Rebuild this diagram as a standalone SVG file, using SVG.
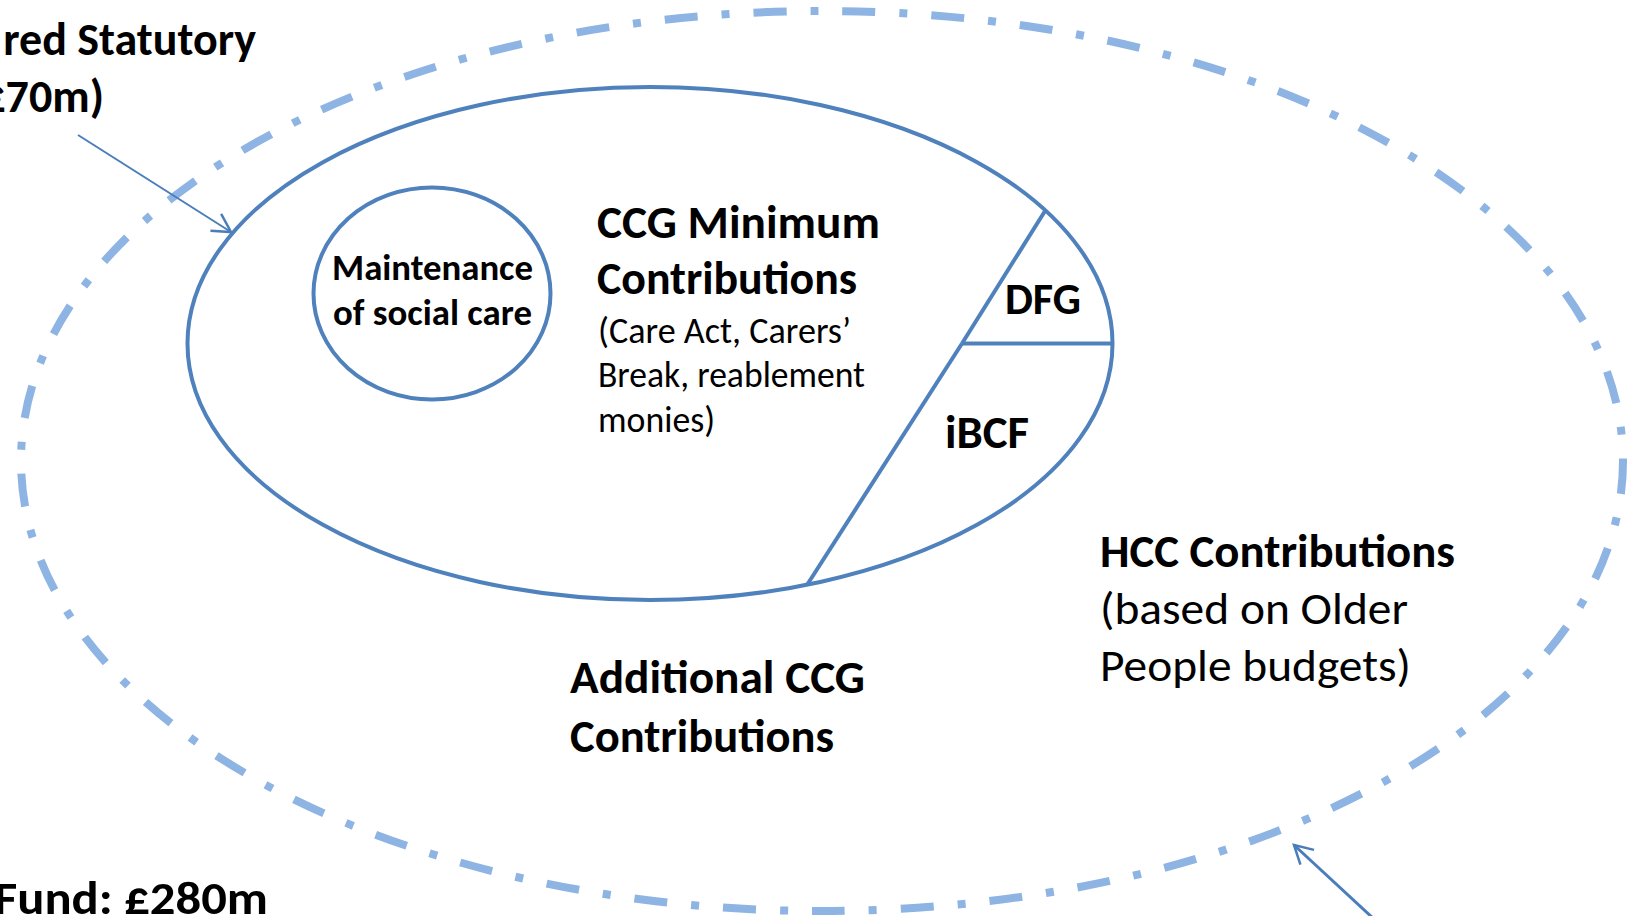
<svg xmlns="http://www.w3.org/2000/svg" width="1633" height="916" viewBox="0 0 1633 916">
  <style>
    .lbl { font-family: Carlito, Calibri, Lato, "Open Sans", sans-serif; fill: #000; }
    .b { font-weight: 700; }
    .r { font-weight: 400; }
    .solid { fill: none; stroke: #4F81BD; stroke-width: 4; }
    .dashed { fill: none; stroke: #8EB4E3; stroke-width: 8; stroke-dasharray: 33 24 8 24; }
    .conn { fill: none; stroke: #4A7EBB; }
  </style>
  <defs>
    <marker id="openArrow" markerUnits="userSpaceOnUse" viewBox="-22 -13 26 26" refX="0" refY="0" markerWidth="26" markerHeight="26" orient="auto">
      <path d="M -18 -10 L 0 0 L -18 10" fill="none" stroke="#4A7EBB" stroke-width="2.5"/>
    </marker>
  </defs>

  <rect width="1633" height="916" fill="#fff"/>

  <!-- Whole pooled fund (outer dash-dot boundary) -->
  <g id="pooled-fund">
    <ellipse class="dashed" cx="822" cy="461" rx="801" ry="450"/>
    <text class="lbl b" font-size="46" x="-6" y="914" textLength="274" lengthAdjust="spacingAndGlyphs">Fund: £280m</text>
  </g>

  <!-- Statutory CCG pot (inner ellipse) -->
  <g id="ccg-minimum">
    <ellipse class="solid" cx="650" cy="343.5" rx="462.5" ry="256.5"/>
    <text class="lbl b" font-size="46" x="597" y="238" textLength="283" lengthAdjust="spacingAndGlyphs">CCG Minimum</text>
    <text class="lbl b" font-size="46" x="597" y="294" textLength="260" lengthAdjust="spacingAndGlyphs">Contributions</text>
    <text class="lbl r" font-size="36" x="598" y="343" textLength="253" lengthAdjust="spacingAndGlyphs">(Care Act, Carers’</text>
    <text class="lbl r" font-size="36" x="598" y="387" textLength="267" lengthAdjust="spacingAndGlyphs">Break, reablement</text>
    <text class="lbl r" font-size="36" x="598" y="432" textLength="117" lengthAdjust="spacingAndGlyphs">monies)</text>
  </g>

  <!-- Segments cut off the right of the inner ellipse -->
  <g id="dfg">
    <line class="solid" x1="1045" y1="211" x2="962" y2="343.5"/>
    <line class="solid" x1="962" y1="343.5" x2="1113" y2="343.5"/>
    <text class="lbl b" font-size="44" x="1005" y="314" textLength="76" lengthAdjust="spacingAndGlyphs">DFG</text>
  </g>
  <g id="ibcf">
    <line class="solid" x1="962" y1="343.5" x2="807" y2="585"/>
    <text class="lbl b" font-size="46" x="945" y="448" textLength="84" lengthAdjust="spacingAndGlyphs">iBCF</text>
  </g>

  <!-- Social care maintenance -->
  <g id="maintenance">
    <ellipse class="solid" cx="432" cy="293.5" rx="118.5" ry="106"/>
    <text class="lbl b" font-size="36" x="332" y="280" textLength="201" lengthAdjust="spacingAndGlyphs">Maintenance</text>
    <text class="lbl b" font-size="36" x="333" y="325" textLength="199" lengthAdjust="spacingAndGlyphs">of social care</text>
  </g>

  <!-- Additional CCG money inside the fund -->
  <g id="additional-ccg">
    <text class="lbl b" font-size="46" x="570" y="693" textLength="295" lengthAdjust="spacingAndGlyphs">Additional CCG</text>
    <text class="lbl b" font-size="46" x="570" y="752" textLength="264" lengthAdjust="spacingAndGlyphs">Contributions</text>
  </g>

  <!-- HCC money inside the fund -->
  <g id="hcc">
    <text class="lbl b" font-size="46" x="1100" y="567" textLength="355" lengthAdjust="spacingAndGlyphs">HCC Contributions</text>
    <text class="lbl r" font-size="46" x="1100" y="624" textLength="308" lengthAdjust="spacingAndGlyphs">(based on Older</text>
    <text class="lbl r" font-size="46" x="1100" y="681" textLength="311" lengthAdjust="spacingAndGlyphs">People budgets)</text>
  </g>

  <!-- Statutory total label -->
  <g id="statutory">
    <text class="lbl b" font-size="46" x="256" y="55" text-anchor="end">red Statutory</text>
    <text class="lbl b" font-size="46" x="104" y="112" text-anchor="end">£70m)</text>
  </g>

  <!-- Pointers from the labels to their boundaries -->
  <g id="connectors">
    <line class="conn" stroke-width="2" x1="78" y1="135" x2="231" y2="232" marker-end="url(#openArrow)"/>
    <line class="conn" stroke-width="3" x1="1375" y1="920" x2="1294" y2="845" marker-end="url(#openArrow)"/>
  </g>
</svg>
